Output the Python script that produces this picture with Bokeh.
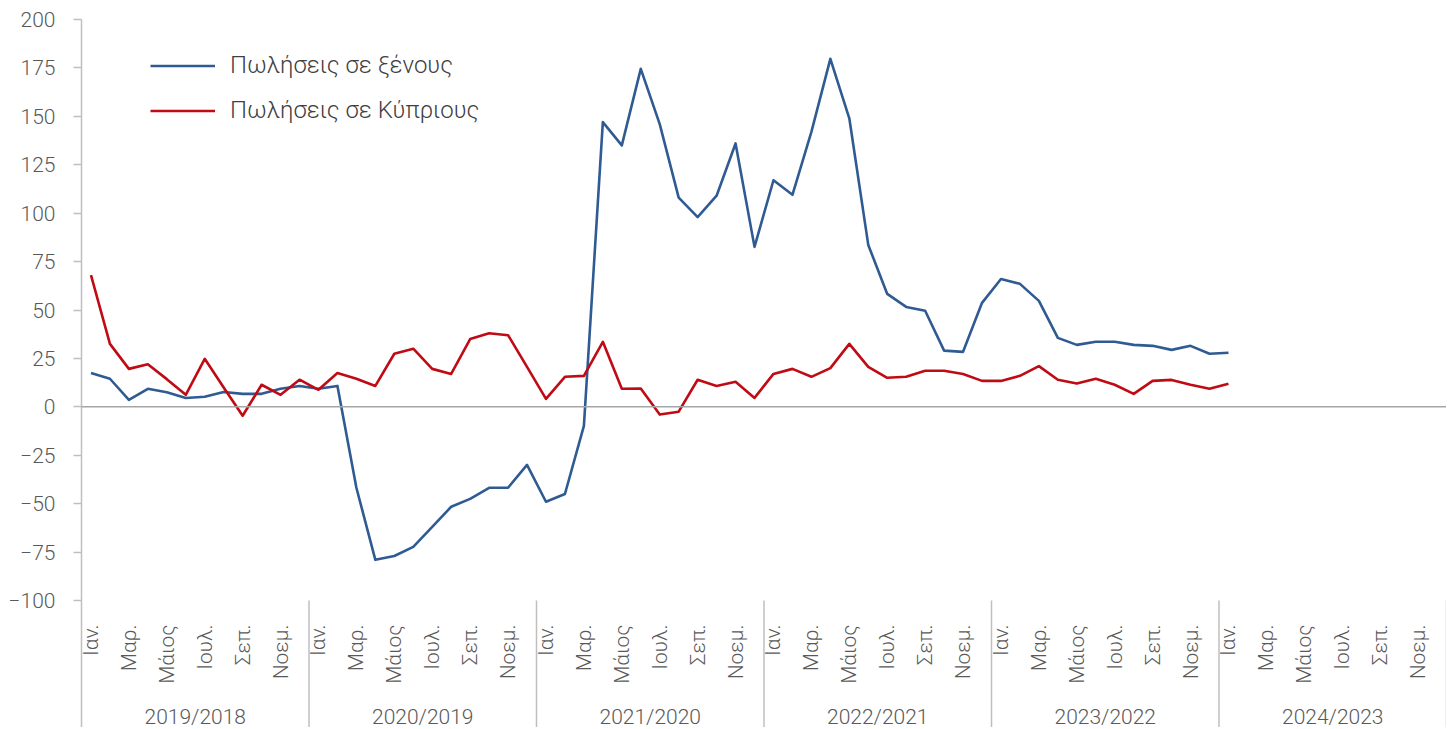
import math
from bokeh.plotting import figure
from bokeh.models import Range1d, FixedTicker, Span, Legend, LegendItem, ColumnDataSource
from bokeh.core.properties import value
from bokeh.embed import file_html
from bokeh.resources import INLINE

# ---------------- data ----------------
groups = ["2019/2018", "2020/2019", "2021/2020", "2022/2021", "2023/2022", "2024/2023"]
month_labels = ["Ιαν.", "Μαρ.", "Μάιος", "Ιουλ.", "Σεπ.", "Νοεμ."]
month_label_idx = [0, 2, 4, 6, 8, 10]

series_names = ["Πωλήσεις σε ξένους", "Πωλήσεις σε Κύπριους"]

foreigners = [
    17.5, 14.5, 3.6, 9.3, 7.5, 4.6, 5.2, 7.7, 6.7, 6.7, 9.3, 10.8,
    9.3, 10.8, -41.8, -79.0, -77.0, -72.3, -62.0, -51.6, -47.5, -41.8, -41.8, -30.0,
    -49.0, -45.0, -9.8, 147.0, 135.0, 174.5, 146.0, 108.0, 98.0, 109.0, 136.0, 82.6,
    117.0, 109.5, 142.0, 179.7, 149.0, 83.6, 58.3, 51.6, 49.6, 29.0, 28.4, 53.7,
    66.0, 63.5, 54.7, 35.6, 32.0, 33.6, 33.6, 32.0, 31.5, 29.4, 31.5, 27.4,
    27.9,
]
cypriots = [
    68.0, 32.5, 19.6, 22.0, 14.3, 6.2, 24.8, 10.0, -4.6, 11.4, 6.2, 14.0,
    8.8, 17.5, 14.5, 10.8, 27.4, 30.0, 19.6, 17.0, 35.0, 38.0, 37.0, 20.6,
    4.1, 15.5, 16.0, 33.6, 9.3, 9.5, -4.0, -2.5, 14.0, 10.8, 12.9, 4.6,
    17.0, 19.6, 15.5, 20.0, 32.5, 20.6, 15.0, 15.5, 18.6, 18.6, 17.0, 13.4,
    13.4, 16.0, 21.0, 14.0, 12.0, 14.5, 11.4, 6.7, 13.4, 13.9, 11.4, 9.3,
    11.9,
]
y_ticks = list(range(-100, 201, 25))

# ---------------- layout constants ----------------
W, H = 1446, 727
LEFT, TOP = 81, 19
n_months = 12 * len(groups)
Y_MIN_TICK, Y_MAX = -100, 200
px_per_unit = (600 - 19) / (Y_MAX - Y_MIN_TICK)
frame_h = H - TOP
y_bottom = Y_MAX - frame_h / px_per_unit

BLUE = "#2F5B92"
RED = "#C00A14"
GREY_AX = "#BFBFBF"
TXT = "#595959"
FONT = "Roboto Light, Roboto"

p = figure(width=W, height=H, output_backend="svg", toolbar_location=None,
           x_range=Range1d(0, n_months), y_range=Range1d(y_bottom, Y_MAX),
           min_border_left=LEFT, min_border_top=TOP, min_border_right=0,
           min_border_bottom=0, x_axis_location=None)
p.xgrid.visible = False
p.ygrid.visible = False
p.outline_line_color = None
p.background_fill_color = "white"
p.border_fill_color = "white"

ax = p.yaxis[0]
ax.ticker = FixedTicker(ticks=y_ticks)
ax.major_tick_out = 8
ax.major_tick_in = 0
ax.minor_tick_out = 0
ax.minor_tick_in = 0
ax.axis_line_color = GREY_AX
ax.axis_line_width = 1.5
ax.major_tick_line_color = GREY_AX
ax.major_tick_line_width = 1.5
ax.major_label_text_font = FONT
ax.major_label_text_font_size = "21px"
ax.major_label_text_color = TXT
ax.major_label_standoff = 18

# zero line
p.add_layout(Span(location=0, dimension="width", line_color="#A6A6A6", line_width=1.5))

# series
xs = [i + 0.5 for i in range(len(foreigners))]
r1 = p.line(xs, foreigners, line_color=BLUE, line_width=2.6, line_join="round")
r2 = p.line(xs, cypriots, line_color=RED, line_width=2.6, line_join="round")

# month labels
mx, mt = [], []
for g in range(len(groups)):
    for k, lab in zip(month_label_idx, month_labels):
        mx.append(g * 12 + k + 0.5)
        mt.append(lab)
msrc = ColumnDataSource(dict(x=mx, y=[Y_MIN_TICK - 24 / px_per_unit] * len(mx), text=mt))
p.text(x="x", y="y", text="text", source=msrc, angle=math.pi / 2,
       text_align="right", text_baseline="middle",
       text_font=value(FONT), text_font_size="21px", text_color=TXT)

# group labels
gsrc = ColumnDataSource(dict(x=[g * 12 + 6 for g in range(len(groups))],
                             y=[Y_MIN_TICK - 116 / px_per_unit] * len(groups),
                             text=groups))
p.text(x="x", y="y", text="text", source=gsrc, text_align="center",
       text_baseline="middle", text_font=value(FONT), text_font_size="21px",
       text_color=TXT)

# group separators
sep_x = [g * 12 for g in range(1, len(groups) + 1)]
p.segment(x0=sep_x, y0=[Y_MIN_TICK] * len(sep_x), x1=sep_x, y1=[y_bottom] * len(sep_x),
          line_color=GREY_AX, line_width=1.5)

# legend
legend = Legend(items=[LegendItem(label=series_names[0], renderers=[r1]),
                       LegendItem(label=series_names[1], renderers=[r2])],
                location=(69, frame_h - 23.5 - 90))
legend.padding = 0
legend.margin = 0
legend.spacing = 0
legend.glyph_width = 65
legend.glyph_height = 45
legend.label_height = 45
legend.label_standoff = 15
legend.label_text_font = FONT
legend.label_text_font_size = "24px"
legend.label_text_color = "#404040"
legend.border_line_color = None
legend.background_fill_alpha = 0
p.add_layout(legend)

open("out.html", "w").write(file_html(p, INLINE))
